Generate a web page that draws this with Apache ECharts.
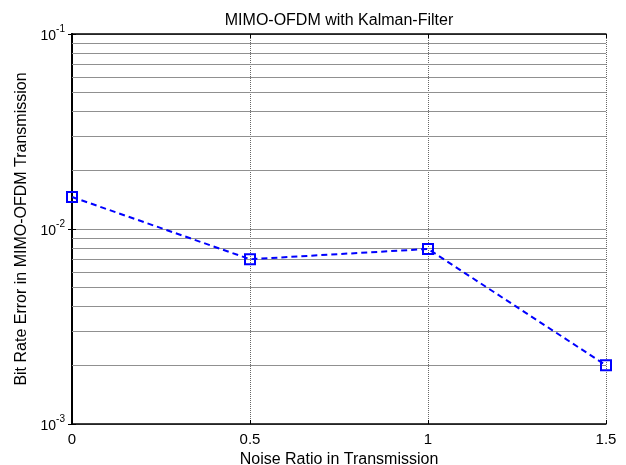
<!DOCTYPE html>
<html>
<head>
<meta charset="utf-8">
<script src="https://cdn.jsdelivr.net/npm/echarts@6/dist/echarts.min.js"></script>
<style>
  html, body { margin: 0; padding: 0; background: #fff; }
  #chart { width: 626px; height: 465px; }
</style>
</head>
<body>
<div id="chart"></div>
<script>
// noise ratio values (x) and measured bit error rate (y)
const noiseRatio = [0, 0.5, 1, 1.5];
const bitErrorRate = [0.0146, 0.007, 0.0079, 0.002];
// minor log grid lines (between decades)
const minorGrid = [0.002, 0.003, 0.004, 0.005, 0.006, 0.007, 0.008, 0.009,
  0.02, 0.03, 0.04, 0.05, 0.06, 0.07, 0.08, 0.09];

const font = "Liberation Sans, Arial, sans-serif";
const chart = echarts.init(document.getElementById("chart"));

function powLabel(v) {
  const e = Math.round(Math.log10(v));
  return "{b|10}{s|" + e + "}";
}

const yRich = {
  b: { fontSize: 14, fontFamily: font, color: "#000", padding: [4, 0, 0, 0] },
  s: { fontSize: 10, fontFamily: font, color: "#000", padding: [0, 0, 9, 0] },
};

const option = {
  animation: false,
  title: {
    text: "MIMO-OFDM with Kalman-Filter",
    left: 334,
    top: 8,
    textAlign: "center",
    textStyle: { fontFamily: font, fontSize: 16, fontWeight: "normal", color: "#000" },
  },
  grid: { left: 72, right: 20, top: 34, bottom: 41, outerBoundsMode: "none" },
  xAxis: [
    {
      type: "value",
      min: 0,
      max: 1.5,
      interval: 0.5,
      name: "Noise Ratio in Transmission",
      nameLocation: "middle",
      nameGap: 24,
      nameTextStyle: { fontFamily: font, fontSize: 16, color: "#000" },
      axisLine: { lineStyle: { color: "#000", width: 1.5 } },
      axisTick: { inside: true, length: 4, lineStyle: { color: "#000" } },
      axisLabel: {
        fontFamily: font, fontSize: 15, color: "#000", margin: 8,
        formatter: (v) => String(v),
      },
      splitLine: { show: true, lineStyle: { color: "#666", type: "dotted", width: 1 } },
    },
    {
      type: "value",
      position: "top",
      min: 0,
      max: 1.5,
      interval: 0.5,
      axisLine: { show: true, lineStyle: { color: "#000", width: 1.5 } },
      axisTick: { inside: true, length: 4, lineStyle: { color: "#000" } },
      axisLabel: { show: false },
      splitLine: { show: false },
    },
  ],
  yAxis: [
    {
      type: "log",
      logBase: 10,
      min: 0.001,
      max: 0.1,
      name: "Bit Rate Error in MIMO-OFDM Transmission",
      nameLocation: "middle",
      nameGap: 41,
      nameTextStyle: { fontFamily: font, fontSize: 16, color: "#000" },
      axisLine: { show: true, lineStyle: { color: "#000", width: 2 } },
      axisTick: { inside: true, length: 4, lineStyle: { color: "#000" } },
      axisLabel: { formatter: powLabel, rich: yRich, margin: 7 },
      splitLine: { show: true, lineStyle: { color: "#909090", width: 1 } },
    },
    {
      type: "log",
      logBase: 10,
      min: 0.001,
      max: 0.1,
      position: "right",
      axisLine: { show: true, lineStyle: { color: "#000", width: 2 } },
      axisTick: { inside: true, length: 4, lineStyle: { color: "#000" } },
      axisLabel: { show: false },
      splitLine: { show: false },
    },
  ],
  series: [
    {
      // minor grid lines only
      type: "line",
      data: [],
      z: 1,
      silent: true,
      markLine: {
        silent: true,
        precision: 6,
        symbol: "none",
        label: { show: false },
        lineStyle: { color: "#909090", type: "solid", width: 1 },
        data: minorGrid.map((v) => ({ yAxis: v })),
      },
    },
    {
      type: "line",
      z: 5,
      data: noiseRatio.map((x, i) => [x, bitErrorRate[i]]),
      symbol: "rect",
      symbolSize: 10,
      showAllSymbol: true,
      lineStyle: { color: "#0000ff", width: 2, type: [6, 4] },
      itemStyle: { color: "rgba(0,0,0,0)", borderColor: "#0000ff", borderWidth: 2 },
    },
  ],
};

chart.setOption(option);
</script>
</body>
</html>
